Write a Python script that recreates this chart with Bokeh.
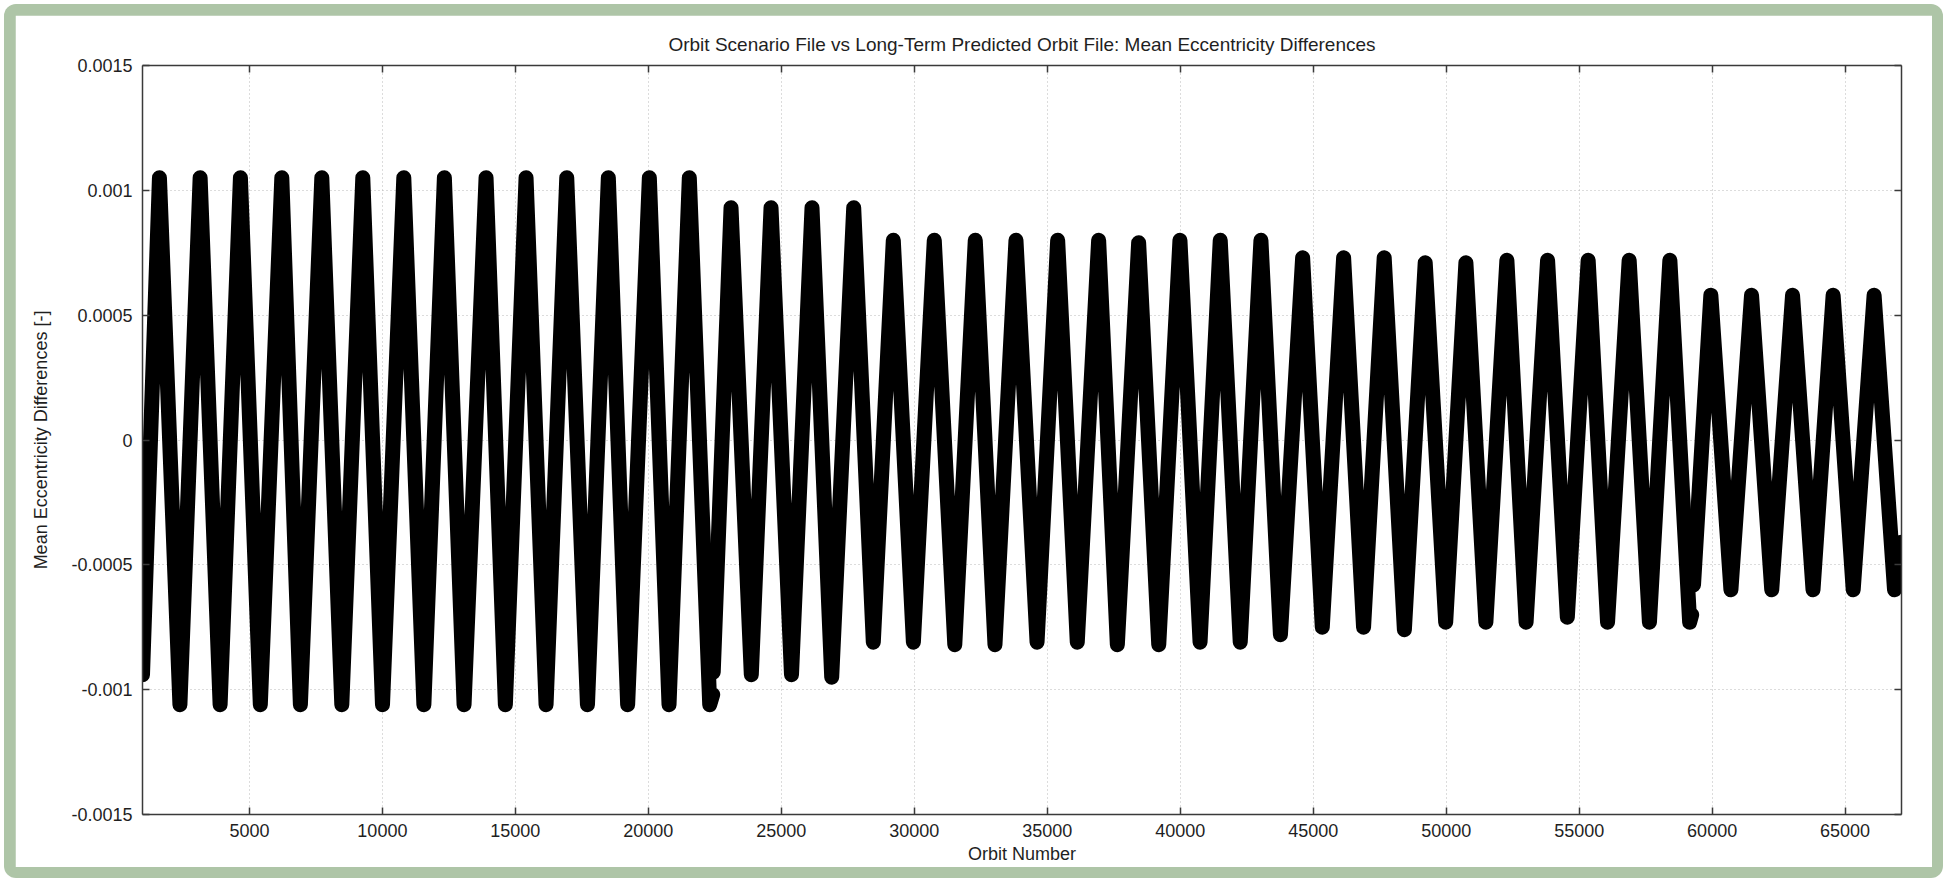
from bokeh.plotting import figure
from bokeh.models import Range1d, LinearAxis, FixedTicker, CustomJSTickFormatter
from bokeh.layouts import column
from bokeh.embed import file_html
from bokeh.resources import INLINE

# ---------------- data ----------------
title_text = "Orbit Scenario File vs Long-Term Predicted Orbit File: Mean Eccentricity Differences"
x_label = "Orbit Number"
y_label = "Mean Eccentricity Differences [-]"

x_ticks = [5000, 10000, 15000, 20000, 25000, 30000, 35000, 40000, 45000, 50000, 55000, 60000, 65000]
x_tick_labels = ["5000", "10000", "15000", "20000", "25000", "30000", "35000",
                 "40000", "45000", "50000", "55000", "60000", "65000"]
y_ticks = [-0.0015, -0.001, -0.0005, 0.0, 0.0005, 0.001, 0.0015]
y_tick_labels = ["-0.0015", "-0.001", "-0.0005", "0", "0.0005", "0.001", "0.0015"]

# turning points (orbit number, mean eccentricity difference) of each data segment
seg1_orbit = [980, 1617, 2387, 3147, 3898, 4662, 5410, 6218, 6917, 7722, 8474, 9263, 10004,
              10805, 11560, 12331, 13071, 13898, 14624, 15402, 16154, 16932, 17711, 18496,
              19222, 20038, 20778, 21541, 22308, 22420]
seg1_value = [-0.00094, 0.00105, -0.00106, 0.00105, -0.00106, 0.00105, -0.00106, 0.00105,
              -0.00106, 0.00105, -0.00106, 0.00105, -0.00106, 0.00105, -0.00106, 0.00105,
              -0.00106, 0.00105, -0.00106, 0.00105, -0.00106, 0.00105, -0.00106, 0.00105,
              -0.00106, 0.00105, -0.00106, 0.00105, -0.00106, -0.00102]

seg2_orbit = [22440, 23109, 23872, 24613, 25383, 26154, 26895, 27722]
seg2_value = [-0.00093, 0.00093, -0.00094, 0.00093, -0.00094, 0.00093, -0.00095, 0.00093]

seg3_orbit = [28459, 29211, 29966, 30752, 31523, 32293, 33034, 33823, 34616, 35391, 36128,
              36932, 37635, 38436, 39192, 39989, 40745, 41504, 42256, 43034, 43767]
seg3_value = [-0.00081, 0.00080, -0.00081, 0.00080, -0.00082, 0.00080, -0.00082, 0.00080,
              -0.00081, 0.00080, -0.00081, 0.00080, -0.00082, 0.00079, -0.00082, 0.00080,
              -0.00081, 0.00080, -0.00081, 0.00080, -0.00078]

seg4_orbit = [44602, 45341, 46143, 46893, 47669, 48428, 49211, 49981, 50741, 51492, 52282,
              53004, 53812, 54555, 55338, 56067, 56880, 57642, 58410, 59154, 59230]
seg4_value = [0.00073, -0.00075, 0.00073, -0.00075, 0.00073, -0.00076, 0.00071, -0.00073,
              0.00071, -0.00073, 0.00072, -0.00073, 0.00072, -0.00071, 0.00072, -0.00073,
              0.00072, -0.00073, 0.00072, -0.00073, -0.00070]

seg5_orbit = [59300, 59951, 60706, 61481, 62241, 63023, 63793, 64549, 65304, 66090, 66857, 67110]
seg5_value = [-0.00058, 0.00058, -0.00060, 0.00058, -0.00060, 0.00058, -0.00060, 0.00058,
              -0.00060, 0.00058, -0.00060, -0.00041]

x_start, x_end = 980, 67120
y_start, y_end = -0.0015, 0.0015

# ---------------- styling ----------------
FONT = "Liberation Sans"
TXT = "#1f1f1f"
AXC = "#3a3a3a"
GREEN = "#aec5a7"

p = figure(width=1917, height=852,
           x_range=Range1d(x_start, x_end), y_range=Range1d(y_start, y_end),
           output_backend="svg", toolbar_location=None,
           min_border_left=127, min_border_right=31, min_border_top=50, min_border_bottom=53,
           background_fill_color="white", border_fill_color="white", outline_line_color=None)

p.title.text = title_text
p.title.align = "center"
p.title.text_font = FONT
p.title.text_font_size = "19px"
p.title.text_font_style = "normal"
p.title.text_color = TXT
p.title.standoff = 21


def label_formatter(tick_values, tick_texts):
    return CustomJSTickFormatter(args=dict(tvals=tick_values, tlabs=tick_texts), code="""
        let best = 0, bd = Infinity;
        for (let i = 0; i < tvals.length; i++) {
            const d = Math.abs(tvals[i] - tick);
            if (d < bd) { bd = d; best = i; }
        }
        return tlabs[best];
    """)


def style_axis(ax):
    ax.axis_line_color = AXC
    ax.axis_line_width = 1.5
    ax.major_tick_line_color = AXC
    ax.major_tick_line_width = 1.5
    ax.major_tick_in = 7
    ax.major_tick_out = 0
    ax.minor_tick_line_color = None
    ax.major_label_text_font = FONT
    ax.major_label_text_font_size = "18px"
    ax.major_label_text_color = TXT
    ax.axis_label_text_font = FONT
    ax.axis_label_text_font_size = "18px"
    ax.axis_label_text_font_style = "normal"
    ax.axis_label_text_color = TXT


xa = p.xaxis[0]
xa.ticker = FixedTicker(ticks=x_ticks)
xa.formatter = label_formatter(x_ticks, x_tick_labels)
xa.axis_label = x_label
style_axis(xa)
xa.major_label_standoff = 9
xa.axis_label_standoff = 4

ya = p.yaxis[0]
ya.ticker = FixedTicker(ticks=y_ticks)
ya.formatter = label_formatter(y_ticks, y_tick_labels)
ya.axis_label = y_label
style_axis(ya)
ya.major_label_standoff = 10
ya.axis_label_standoff = 17

top = LinearAxis(ticker=FixedTicker(ticks=x_ticks), formatter=CustomJSTickFormatter(code="return ''"))
style_axis(top)
top.major_label_text_font_size = "0px"
top.major_label_standoff = 0
p.add_layout(top, "above")

right = LinearAxis(ticker=FixedTicker(ticks=y_ticks), formatter=CustomJSTickFormatter(code="return ''"))
style_axis(right)
right.major_label_text_font_size = "0px"
right.major_label_standoff = 0
p.add_layout(right, "right")

for g in (p.xgrid[0], p.ygrid[0]):
    g.grid_line_color = "#b8b8b8"
    g.grid_line_dash = "1 3"
    g.grid_line_width = 1
p.xgrid[0].ticker = FixedTicker(ticks=x_ticks)
p.ygrid[0].ticker = FixedTicker(ticks=y_ticks)

# data: first segment, then the continuous middle record, then the last segment
mid_orbit = seg2_orbit + seg3_orbit + seg4_orbit
mid_value = seg2_value + seg3_value + seg4_value
for xs, ys in ((seg1_orbit, seg1_value), (mid_orbit, mid_value), (seg5_orbit, seg5_value)):
    p.line(xs, ys, line_width=15, line_color="black", line_join="round", line_cap="round")

page = column(p, styles={"background-color": GREEN, "padding": "11px", "margin": "4px",
                         "border-radius": "12px"})

open("out.html", "w").write(file_html(page, INLINE))
